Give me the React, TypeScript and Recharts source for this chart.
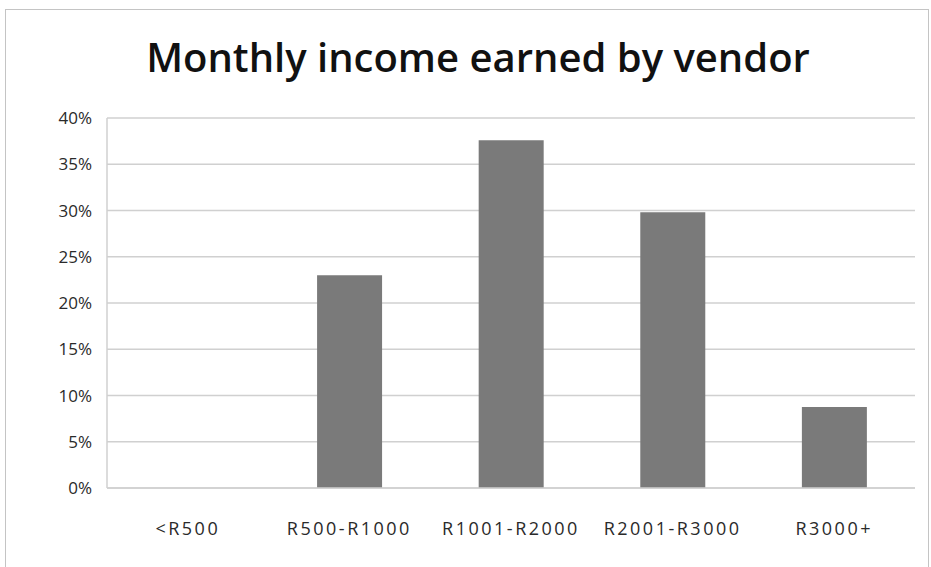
import React from "react"
import { Bar, BarChart, CartesianGrid, XAxis, YAxis } from "recharts"

// income brackets and share of vendors (fraction of 1)
const brackets = ["<R500", "R500-R1000", "R1001-R2000", "R2001-R3000", "R3000+"]
const shares = [0, 0.23, 0.376, 0.298, 0.0875]
const yTicks = [0, 0.05, 0.1, 0.15, 0.2, 0.25, 0.3, 0.35, 0.4]

const data = brackets.map((name, i) => ({ name, share: shares[i] }))

const font = "'Open Sans', 'Liberation Sans', sans-serif"

export default function App() {
  return (
    <div
      style={{
        position: "absolute",
        left: 0,
        top: 0,
        width: 931,
        height: 567,
        background: "#fff",
        overflow: "hidden",
        fontFamily: font,
      }}
    >
      <div
        style={{
          position: "absolute",
          left: 5,
          top: 9,
          width: 922,
          height: 570,
          border: "1px solid #c4c4c4",
        }}
      />
      <div
        style={{
          position: "absolute",
          left: 0,
          width: 956,
          top: 37,
          lineHeight: 1,
          textAlign: "center",
          fontSize: 40,
          fontWeight: 600,
          color: "#111",
        }}
      >
        Monthly income earned by vendor
      </div>
      <div style={{ position: "absolute", left: 0, top: 0 }}>
        <BarChart
          width={931}
          height={567}
          data={data}
          margin={{ top: 118, right: 16, bottom: 0, left: 0 }}
          barCategoryGap="30%"
        >
          <CartesianGrid vertical={false} stroke="#d0d0d0" strokeWidth={1.5} />
          <XAxis
            dataKey="name"
            height={79}
            tickLine={false}
            tickSize={0}
            tickMargin={34}
            axisLine={{ stroke: "#d0d0d0", strokeWidth: 1.5 }}
            tick={{ fill: "#2a2a2a", fontSize: 18, fontFamily: font, letterSpacing: 2.5 }}
          />
          <YAxis
            width={107}
            domain={[0, 0.4]}
            ticks={yTicks}
            interval={0}
            tickLine={false}
            tickSize={0}
            tickMargin={15}
            axisLine={{ stroke: "#d0d0d0", strokeWidth: 1.5 }}
            tickFormatter={(v: number) => `${Math.round(v * 100)}%`}
            tick={{ fill: "#2a2a2a", fontSize: 17, fontFamily: font }}
          />
          <Bar dataKey="share" fill="#7a7a7a" isAnimationActive={false} />
        </BarChart>
      </div>
    </div>
  )
}
